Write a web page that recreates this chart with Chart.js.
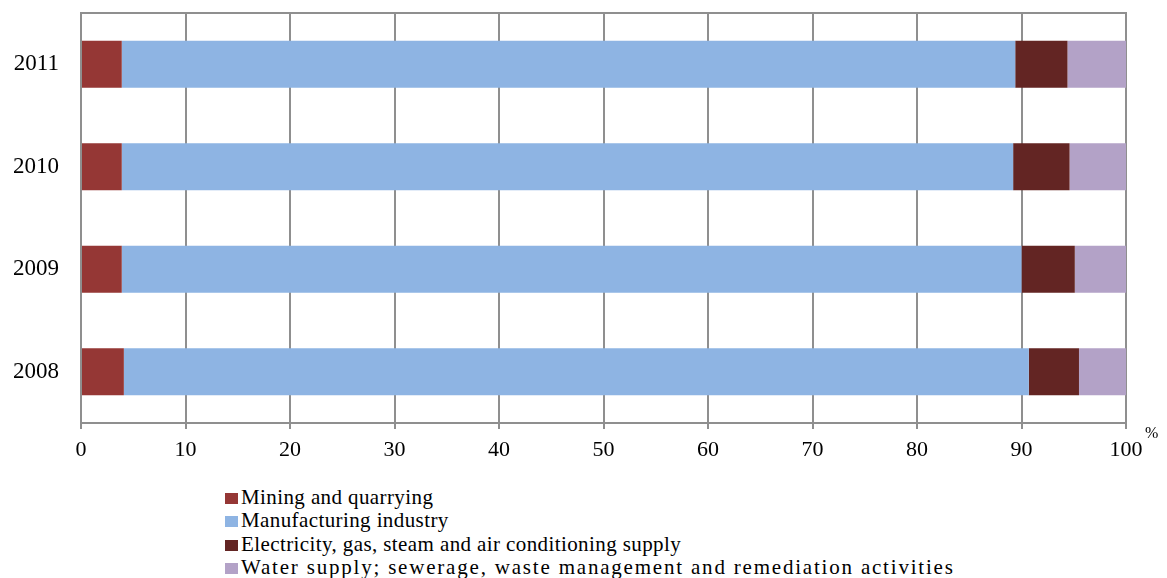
<!DOCTYPE html>
<html>
<head>
<meta charset="UTF-8">
<title>Structure by year</title>
<script src="https://cdn.jsdelivr.net/npm/chart.js"></script>
<style>
body { margin: 0; background: #fff; }
#wrap { position: relative; width: 1167px; height: 578px; }
#chart { position: absolute; left: 0; top: 0; }
#legend {
    position: absolute;
    left: 225px;
    top: 486px;
    font-family: "Liberation Serif", serif;
    font-size: 21px;
    letter-spacing: 0.4px;
    color: #000;
}
#legend div { height: 23.3px; line-height: 23.3px; white-space: nowrap; }
#legend div:last-child { letter-spacing: 1.8px; }
#legend span {
    display: inline-block;
    width: 13px;
    height: 11px;
    margin-right: 3px;
}
</style>
</head>
<body>
<div id="wrap">
    <canvas id="chart" width="1167" height="478"></canvas>
    <div id="legend"></div>
</div>

<script>
const years = ['2011', '2010', '2009', '2008'];
const mining = [3.9, 3.9, 3.9, 4.1];
const manufacturing = [85.5, 85.3, 86.1, 86.6];
const electricity = [5.0, 5.4, 5.1, 4.8];
const water = [5.6, 5.4, 4.9, 4.5];
const seriesNames = [
    'Mining and quarrying',
    'Manufacturing industry',
    'Electricity, gas, steam and air conditioning supply',
    'Water supply; sewerage, waste management and remediation activities'
];
const colors = ['#953735', '#8EB4E3', '#632523', '#B3A2C7'];
const xTicks = [0, 10, 20, 30, 40, 50, 60, 70, 80, 90, 100];

const gridGray = '#8f8f8f';
const serif = "'Liberation Serif', serif";

// top border line and the % sign
const extras = {
    id: 'extras',
    afterDraw(chart) {
        const a = chart.chartArea;
        const ctx = chart.ctx;
        ctx.save();
        ctx.strokeStyle = gridGray;
        ctx.lineWidth = 2;
        ctx.beginPath();
        ctx.moveTo(a.left - 1, a.top);
        ctx.lineTo(a.right + 1, a.top);
        ctx.stroke();
        ctx.fillStyle = '#000';
        ctx.font = '16px ' + serif;
        ctx.textAlign = 'left';
        ctx.textBaseline = 'middle';
        ctx.fillText('%', a.right + 19, a.bottom + 11);
        ctx.restore();
    }
};

const values = [mining, manufacturing, electricity, water];

new Chart(document.getElementById('chart'), {
    type: 'bar',
    data: {
        labels: years,
        datasets: values.map((v, i) => ({
            label: seriesNames[i],
            data: v,
            backgroundColor: colors[i],
            borderWidth: 0,
            categoryPercentage: 1,
            barPercentage: 0.46
        }))
    },
    options: {
        indexAxis: 'y',
        responsive: false,
        animation: false,
        layout: { padding: { left: 0, right: 41, top: 13, bottom: 0 } },
        plugins: {
            legend: { display: false },
            tooltip: { enabled: false }
        },
        scales: {
            x: {
                stacked: true,
                min: 0,
                max: 100,
                afterBuildTicks: s => { s.ticks = xTicks.map(v => ({ value: v })); },
                grid: { color: gridGray, lineWidth: 2, tickLength: 6 },
                border: { color: gridGray, width: 2 },
                ticks: {
                    color: '#000',
                    padding: 8,
                    maxRotation: 0,
                    font: { family: serif, size: 22 }
                },
                afterFit: s => { s.height = 55; }
            },
            y: {
                stacked: true,
                grid: { display: false, drawTicks: false },
                border: { color: gridGray, width: 2 },
                ticks: {
                    color: '#000',
                    padding: 22,
                    font: { family: serif, size: 23 }
                },
                afterFit: s => { s.width = 81; s.paddingTop = 0; s.paddingBottom = 0; }
            }
        }
    },
    plugins: [extras]
});

const legend = document.getElementById('legend');
seriesNames.forEach((name, i) => {
    const row = document.createElement('div');
    const box = document.createElement('span');
    box.style.background = colors[i];
    row.appendChild(box);
    row.appendChild(document.createTextNode(name));
    legend.appendChild(row);
});
</script>
</body>
</html>
